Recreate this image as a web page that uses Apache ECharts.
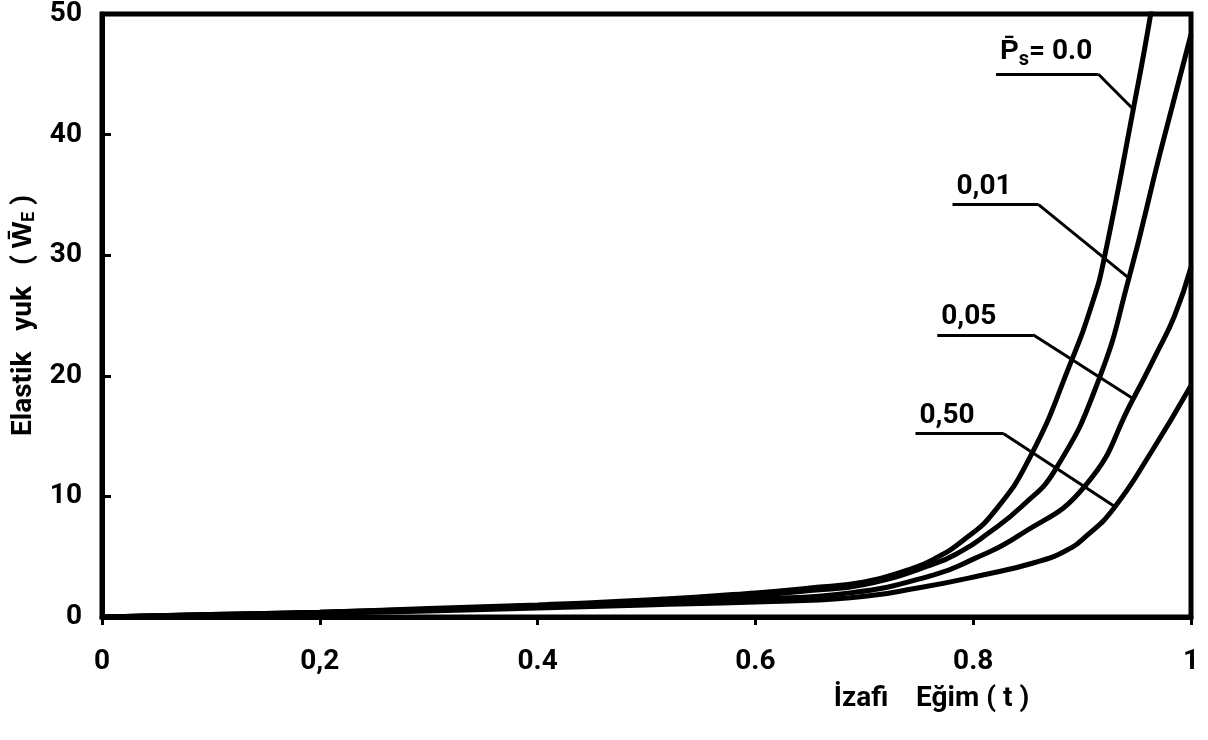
<!DOCTYPE html>
<html>
<head>
<meta charset="utf-8">
<script src="https://cdn.jsdelivr.net/npm/echarts@6/dist/echarts.min.js"></script>
<style>html,body{margin:0;padding:0;background:#fff}#c{width:1208px;height:740px}</style>
</head>
<body>
<div id="c"></div>
<script>
// ---- data ----
const xTickLabels = ['0', '0,2', '0.4', '0.6', '0.8', '1'];
const yTickLabels = ['0', '10', '20', '30', '40', '50'];
const seriesNames = ['0.0', '0.01', '0.05', '0.50'];

const curveP000 = [[0,0],[0.1,0.2],[0.2,0.4],[0.3,0.7],[0.4,1.0],[0.5,1.4],[0.6,2.0],[0.65,2.4],[0.7,2.9],[0.74,3.9],[0.764,4.8],[0.79,6.3],[0.819,8.7],[0.853,13.4],[0.89,21.2],[0.91,26.2],[0.92,29.6],[0.947,42.1],[0.963,50],[0.975,57]];
const curveP001 = [[0,0],[0.1,0.2],[0.2,0.4],[0.3,0.65],[0.4,0.95],[0.5,1.3],[0.6,1.8],[0.65,2.2],[0.7,2.7],[0.764,4.4],[0.79,5.5],[0.81,6.7],[0.845,9.2],[0.876,12.3],[0.915,19.6],[0.943,28.1],[0.972,38.6],[1.0,48.3]];
const curveP005 = [[0,0],[0.1,0.18],[0.2,0.35],[0.3,0.6],[0.4,0.9],[0.5,1.2],[0.6,1.5],[0.687,2.0],[0.764,3.5],[0.8,4.8],[0.841,6.7],[0.903,10.9],[0.947,18.1],[0.968,21.8],[0.985,25.0],[1.0,29.0]];
const curveP050 = [[0,0],[0.1,0.15],[0.2,0.3],[0.3,0.5],[0.4,0.75],[0.5,1.0],[0.6,1.25],[0.687,1.6],[0.749,2.4],[0.81,3.5],[0.856,4.5],[0.885,5.5],[0.905,6.8],[0.929,9.0],[0.963,13.6],[1.0,19.2]];

// leader lines (data coordinates): [xStart, xKnee, yHorizontal, xEnd, yEnd]
const leaderP000 = [0.821, 0.915, 45.0, 0.947, 42.1];
const leaderP001 = [0.781, 0.860, 34.2, 0.943, 28.1];
const leaderP005 = [0.767, 0.855, 23.4, 0.947, 18.1];
const leaderP050 = [0.747, 0.828, 15.2, 0.931, 9.1];

const FONT = "Roboto, 'Liberation Sans', sans-serif";

function leader(L, labelText) {
  return {
    symbol: 'none',
    silent: true,
    animation: false,
    lineStyle: { color: '#000', width: 3, type: 'solid' },
    label: { show: false },
    data: [
      [
        { coord: [L[0], L[2]],
          label: { show: true, position: 'insideStartTop', distance: 4,
                   formatter: labelText, color: '#000', fontFamily: FONT,
                   fontWeight: 'bold', fontSize: 28,
                   rich: {
                     p: { fontFamily: FONT, fontWeight: 'bold', fontSize: 28, color: '#000' },
                     s: { fontFamily: FONT, fontWeight: 'bold', fontSize: 20, color: '#000', padding: [16, 0, 0, 0] }
                   } } },
        { coord: [L[1], L[2]] }
      ],
      [ { coord: [L[1], L[2]] }, { coord: [L[3], L[4]] } ]
    ]
  };
}

function curve(name, data, L, labelText) {
  return {
    name: name, type: 'line', data: data, showSymbol: false, symbol: 'none',
    smooth: 0.5, clip: true,
    lineStyle: { color: '#000', width: 5 },
    markLine: leader(L, labelText),
    z: 3
  };
}

const chart = echarts.init(document.getElementById('c'), null, { renderer: 'canvas' });
chart.setOption({
  backgroundColor: '#fff',
  animation: false,
  grid: { left: 102, right: 17, top: 12, bottom: 123, show: true, borderColor: '#000', borderWidth: 5, backgroundColor: 'transparent' },
  xAxis: {
    type: 'value', min: 0, max: 1, interval: 0.2,
    name: 'İzafi    Eğim ( t )', nameLocation: 'middle', nameGap: 68,
    nameTextStyle: { fontFamily: FONT, fontWeight: 'bold', fontSize: 28, color: '#000', padding: [0, 0, 0, 570] },
    axisLine: { show: true, lineStyle: { color: '#000', width: 5 } },
    axisTick: { show: true, inside: false, length: 8, lineStyle: { color: '#000', width: 3 } },
    axisLabel: { margin: 31, fontFamily: FONT, fontWeight: 'bold', fontSize: 28, color: '#000',
                 formatter: function (v) { return xTickLabels[Math.round(v / 0.2)]; } },
    splitLine: { show: false }
  },
  yAxis: {
    type: 'value', min: 0, max: 50, interval: 10,
    name: '{n|Elastik   yuk   ( W\u0304}{e|E}{n| )}', nameLocation: 'middle', nameGap: 44,
    nameTextStyle: { color: '#000',
      rich: { n: { fontFamily: FONT, fontWeight: 'bold', fontSize: 28, color: '#000' },
              e: { fontFamily: FONT, fontWeight: 'bold', fontSize: 18, color: '#000', padding: [12, 0, 0, 0] } } },
    axisLine: { show: true, lineStyle: { color: '#000', width: 5 } },
    axisTick: { show: true, inside: true, length: 9, lineStyle: { color: '#000', width: 3 } },
    axisLabel: { margin: 20, fontFamily: FONT, fontWeight: 'bold', fontSize: 28, color: '#000',
                 formatter: function (v) { return yTickLabels[Math.round(v / 10)]; } },
    splitLine: { show: false }
  },
  series: [
    curve(seriesNames[0], curveP000, leaderP000, '{p|P\u0304}{s|s}{p|= 0.0}'),
    curve(seriesNames[1], curveP001, leaderP001, '{p|0,01}'),
    curve(seriesNames[2], curveP005, leaderP005, '{p|0,05}'),
    curve(seriesNames[3], curveP050, leaderP050, '{p|0,50}')
  ]
});
</script>
</body>
</html>
